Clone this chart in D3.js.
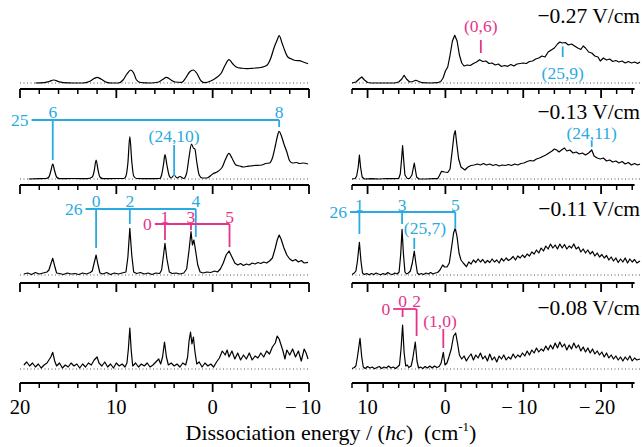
<!DOCTYPE html>
<html><head><meta charset="utf-8">
<script src="https://cdn.jsdelivr.net/npm/d3@7"></script>
<style>body{margin:0;background:#fff}svg{display:block}</style>
</head><body><svg id="c" width="642" height="447" font-family="'Liberation Serif','Times New Roman',Times,serif"></svg>
<script>
// ---------------- DATA ----------------
const fieldLabels = ["\u22120.27 V/cm", "\u22120.13 V/cm", "\u22120.11 V/cm", "\u22120.08 V/cm"];
const leftMajor = [20, 10, 0, -10];
const leftMajorLabels = ["20", "10", "0", "\u2212\u200910"];
const leftMinor = [18, 16, 14, 12, 8, 6, 4, 2, -2, -4, -6, -8];
const rightMajor = [10, 0, -10, -20];
const rightMajorLabels = ["10", "0", "\u2212\u200910", "\u2212\u200920"];
const rightMinor = [12, 8, 6, 4, 2, -2, -4, -6, -8, -12, -14, -16, -18, -22, -24];

// spectra: [energy (cm-1), signal]
const specL027 = [[18.4,0],[17.5,0.3],[17.0,1.5],[16.5,3],[16.0,1.5],[15.5,0.3],[14.5,0],[13.5,0],[12.8,1.5],[12.3,4.5],[12.0,5.7],[11.6,4],[11.0,0.7],[10.5,0],[9.8,0],[9.3,3],[8.9,9],[8.5,13],[8.2,10],[7.9,3],[7.5,0.5],[6.5,0],[5.6,1],[5.2,3.5],[4.8,5.7],[4.4,3.5],[3.9,1],[3.2,0.7],[2.8,5],[2.4,11],[2.0,13],[1.6,9],[1.2,2],[0.8,0.3],[0.2,2],[-0.4,5.5],[-0.9,10],[-1.3,18],[-1.7,23.3],[-2.1,19],[-2.5,15.7],[-3.0,14.8],[-3.5,14.3],[-4.0,14.6],[-4.5,15],[-5.0,15.5],[-5.6,17.5],[-6.0,24],[-6.4,36],[-6.7,43],[-6.9,47.3],[-7.2,40],[-7.5,32],[-7.8,26],[-8.2,24],[-8.6,22.5],[-9.0,22.3],[-9.4,21],[-9.9,19.3]];
const specR027 = [[12.0,0],[11.5,1],[11.0,4.5],[10.75,6],[10.4,3],[10.0,0.5],[9.5,0],[8,0],[6.5,0],[6.0,1],[5.6,4],[5.3,7.7],[5.0,4],[4.6,1],[4.2,1.5],[3.8,2.7],[3.4,1.5],[3.0,0.3],[2.0,0],[1.0,0.3],[0.6,1.5],[0.3,5],[0.0,12],[-0.3,16],[-0.6,28],[-0.9,42],[-1.2,47.7],[-1.5,42],[-1.8,28],[-2.1,20],[-2.4,17],[-2.8,18],[-3.2,17.5],[-3.6,19.5],[-4.0,21],[-4.4,23.3],[-4.8,21.5],[-5.2,22],[-5.6,19.5],[-6.0,20],[-6.4,18],[-6.8,19],[-7.2,16.5],[-7.6,17.5],[-8.0,16.7],[-8.4,18.5],[-8.8,17],[-9.2,19],[-9.6,19.5],[-10.0,20],[-10.4,19.5],[-10.8,21.5],[-11.2,22],[-11.6,24],[-12.0,25],[-12.4,27],[-12.8,26],[-13.2,31],[-13.6,33],[-14.0,35],[-14.4,39],[-14.7,41],[-15.0,40],[-15.4,40.5],[-15.8,38],[-16.2,39],[-16.6,37],[-17.0,35],[-17.4,33.5],[-17.7,37],[-18.0,35],[-18.4,31],[-18.8,30],[-19.2,27],[-19.6,26],[-19.9,22],[-20.3,25],[-20.7,23],[-21.1,24],[-21.5,21.5],[-21.9,22.5],[-22.3,21],[-22.7,22],[-23.1,20],[-23.5,21.5],[-23.9,20],[-24.3,21],[-24.7,19.5],[-25.0,21]];
const specL013 = [[19.1,0],[18.0,0.3],[17.3,0.5],[17.0,2],[16.8,8],[16.6,15],[16.4,8],[16.2,2],[15.9,0.3],[14.5,0.5],[13.0,0.3],[12.5,2],[12.3,8],[12.1,19],[11.9,9],[11.7,2],[11.4,0.3],[10.0,0.5],[9.2,0.5],[9.0,3],[8.8,16],[8.6,42.3],[8.4,18],[8.2,3],[7.9,0.5],[6.5,0.3],[5.5,0.5],[5.3,4],[5.1,15],[4.95,24.3],[4.75,14],[4.5,3],[4.3,1],[4.0,4],[3.7,1],[3.4,2.5],[3.0,0.5],[2.7,6],[2.45,22],[2.2,35],[2.0,31],[1.85,30],[1.65,17],[1.4,4],[1.1,1],[0.6,1],[0.0,5],[-0.6,8],[-1.0,12],[-1.3,19],[-1.7,25.7],[-2.0,21],[-2.4,14],[-2.8,13],[-3.2,12],[-3.5,12.5],[-3.9,13],[-4.3,13.5],[-4.7,13.7],[-5.1,14],[-5.5,15.5],[-5.9,16],[-6.2,21],[-6.5,33],[-6.7,42],[-6.9,47.7],[-7.1,44],[-7.4,35],[-7.7,27],[-8.0,18],[-8.3,16],[-8.7,16.5],[-9.0,15.5],[-9.4,16],[-9.9,15]];
const specR013 = [[12.0,0],[11.6,0.5],[11.4,3],[11.2,12],[11.05,24],[10.9,12],[10.7,2],[10.4,0],[9.5,0.3],[8.5,0],[7.5,0.5],[6.5,0.3],[6.0,0.5],[5.8,5],[5.65,18],[5.5,33.3],[5.35,18],[5.2,4],[4.9,0.5],[4.6,0.5],[4.3,4],[4.15,10],[4.0,16],[3.85,9],[3.7,2],[3.4,0],[2.5,0],[1.5,0.3],[1.0,0.3],[0.8,3],[0.5,7.7],[0.1,7],[-0.3,6.5],[-0.6,10],[-0.9,30],[-1.1,44],[-1.27,48.3],[-1.45,36],[-1.7,20],[-2.0,12],[-2.5,9],[-2.9,12],[-3.3,13.5],[-3.7,14],[-4.1,15],[-4.5,14],[-4.9,15.5],[-5.3,14],[-5.7,15],[-6.1,13.5],[-6.5,14.5],[-6.9,13],[-7.3,14],[-7.7,13.5],[-8.1,14.5],[-8.5,13.5],[-8.9,15],[-9.3,14],[-9.7,15.5],[-10.1,16],[-10.5,17.5],[-10.9,18.5],[-11.3,18],[-11.7,20],[-12.1,21],[-12.5,22.5],[-12.9,24],[-13.3,26],[-13.7,28],[-14.0,30],[-14.3,29],[-14.6,27],[-15.0,29.5],[-15.3,31],[-15.6,28],[-16.0,29],[-16.4,26],[-16.8,27],[-17.2,25],[-17.6,26],[-18.0,24],[-18.4,26],[-18.8,29],[-19.1,23],[-19.5,21],[-19.9,20],[-20.3,21],[-20.7,18],[-21.1,19],[-21.5,17],[-21.9,18],[-22.3,16],[-22.7,17.5],[-23.1,15],[-23.5,16.5],[-23.9,14],[-24.3,15.5],[-24.7,14],[-25.0,15]];
const specL011 = [[19.6,1],[19.2,2],[18.8,0.5],[18.4,2.5],[18.0,1],[17.6,2],[17.2,3],[17.0,5],[16.8,11],[16.6,16.7],[16.4,9],[16.2,2],[15.9,1.5],[15.5,0.5],[15.1,2],[14.7,1],[14.3,1.5],[13.9,0.5],[13.5,2],[13.1,1],[12.7,2.5],[12.5,4],[12.3,12],[12.1,20],[11.9,10],[11.7,2],[11.4,1],[11.0,2.5],[10.6,0.5],[10.2,2],[9.8,1],[9.4,2],[9.0,3],[8.8,18],[8.6,46.7],[8.4,20],[8.2,3],[7.9,1.5],[7.5,2.5],[7.1,1],[6.7,2],[6.3,0.5],[5.9,2],[5.5,1.5],[5.3,5],[5.1,20],[4.95,31.7],[4.75,16],[4.5,3],[4.2,1.5],[3.8,2],[3.4,1],[3.0,2],[2.7,6],[2.45,25],[2.25,43.3],[2.1,30],[1.95,35],[1.8,26],[1.55,10],[1.3,3],[1.0,2],[0.6,3],[0.2,2.5],[-0.2,4],[-0.5,3],[-0.8,6],[-1.1,12],[-1.4,20],[-1.7,24],[-2.0,18],[-2.3,12],[-2.6,10],[-2.9,11.5],[-3.2,9.5],[-3.5,11],[-3.8,10],[-4.1,12],[-4.4,11],[-4.7,12.5],[-5.0,11.5],[-5.3,13],[-5.6,12],[-5.9,14],[-6.2,17],[-6.5,27],[-6.7,35],[-6.9,40],[-7.1,36],[-7.4,27],[-7.7,20],[-8.0,16],[-8.3,14],[-8.6,15.5],[-8.9,13],[-9.2,14.5],[-9.5,12],[-9.9,12.7]];
const specR011 = [[12.0,0.5],[11.7,2],[11.5,4],[11.3,14],[11.05,32.7],[10.85,14],[10.65,2],[10.4,0.5],[10.1,1.5],[9.8,0.3],[9.5,1.5],[9.2,0.5],[8.9,2],[8.6,1],[8.3,0.3],[8.0,1.5],[7.7,0.5],[7.4,2.5],[7.1,1],[6.8,0.5],[6.5,2],[6.2,1],[5.95,3],[5.75,20],[5.57,45.7],[5.4,22],[5.2,3],[5.0,1],[4.75,2],[4.5,4],[4.25,12],[4.0,24],[3.8,12],[3.6,2],[3.4,0.5],[3.1,1.5],[2.8,0.5],[2.5,2],[2.2,1],[1.9,2.5],[1.6,1],[1.3,2],[1.0,2.5],[0.7,5],[0.35,10],[0.1,8],[-0.2,8],[-0.5,12],[-0.8,28],[-1.05,42],[-1.27,46.7],[-1.5,38],[-1.75,22],[-2.0,15],[-2.3,12],[-2.7,8.3],[-3.0,13],[-3.3,11],[-3.6,15],[-3.9,12.5],[-4.2,16],[-4.5,13],[-4.8,15.5],[-5.1,12],[-5.4,14.5],[-5.7,12.5],[-6.0,16],[-6.3,13],[-6.6,15],[-6.9,12],[-7.2,16.5],[-7.5,14],[-7.8,17],[-8.1,14.5],[-8.4,16],[-8.7,18.5],[-9.0,15],[-9.3,19],[-9.6,17],[-9.9,20],[-10.2,17.5],[-10.5,21],[-10.8,19],[-11.1,23],[-11.4,21],[-11.7,25],[-12.0,22],[-12.3,27],[-12.6,24],[-12.9,29],[-13.2,26],[-13.5,31],[-13.8,27],[-14.1,30],[-14.4,26],[-14.7,31],[-15.0,27],[-15.3,30.5],[-15.6,26],[-15.9,29],[-16.2,27],[-16.5,31],[-16.8,26],[-17.1,28],[-17.4,23],[-17.7,26],[-18.0,22],[-18.3,25],[-18.6,21],[-18.9,23.5],[-19.2,19],[-19.5,22],[-19.8,18],[-20.1,20.5],[-20.4,17],[-20.7,19.5],[-21.0,15],[-21.3,18],[-21.6,14],[-21.9,17],[-22.2,12.5],[-22.5,16],[-22.8,13],[-23.1,17],[-23.4,12],[-23.7,16],[-24.0,13],[-24.3,15.5],[-24.6,12],[-25.0,14]];
const specL008 = [[19.6,4],[19.3,7],[19.0,3],[18.7,6],[18.4,2],[18.1,5],[17.8,1],[17.5,4],[17.2,6],[17.0,9],[16.8,12],[16.6,16.7],[16.4,8],[16.2,3],[15.9,6],[15.6,1],[15.3,4],[15.0,2],[14.7,6],[14.4,3],[14.1,5],[13.8,1],[13.5,5],[13.2,2],[12.9,6],[12.6,4],[12.3,9],[12.0,12],[11.8,6],[11.5,3],[11.2,7],[10.9,2],[10.6,5],[10.3,1],[10.0,6],[9.7,3],[9.4,5],[9.1,2],[8.9,6],[8.75,20],[8.6,41],[8.45,18],[8.3,3],[8.0,6],[7.7,2],[7.4,5],[7.1,3],[6.8,6],[6.5,2],[6.2,4],[5.9,7],[5.6,10],[5.4,5],[5.2,12],[5.0,27],[4.8,12],[4.6,4],[4.3,6],[4.0,3],[3.7,5],[3.4,2],[3.1,6],[2.8,4],[2.6,12],[2.45,28],[2.3,37],[2.15,25],[2.0,32],[1.85,18],[1.65,5],[1.4,7],[1.1,2],[0.8,6],[0.5,3],[0.2,5],[-0.1,2],[-0.4,7],[-0.7,11],[-1.0,18],[-1.3,14],[-1.5,19],[-1.7,12],[-2.0,18],[-2.3,10],[-2.6,16],[-2.9,9],[-3.2,14],[-3.5,10],[-3.8,16],[-4.1,9],[-4.4,13],[-4.7,11],[-5.0,16],[-5.3,12],[-5.6,18],[-5.9,15],[-6.2,22],[-6.5,26],[-6.7,33],[-6.9,30],[-7.1,24],[-7.3,18],[-7.5,10],[-7.7,19],[-8.0,14],[-8.3,20],[-8.6,12],[-8.9,18],[-9.2,8],[-9.5,20],[-9.7,16],[-9.9,10]];
const specR008 = [[12.0,0.5],[11.7,1.5],[11.5,3],[11.3,12],[10.97,30.7],[10.75,12],[10.55,2],[10.3,0.5],[10.0,2.5],[9.7,1],[9.4,2],[9.1,0.3],[8.8,1.5],[8.5,2.5],[8.2,0.5],[7.9,2],[7.6,1],[7.3,3],[7.0,1],[6.7,2],[6.4,0.5],[6.1,2.5],[5.9,4],[5.7,20],[5.5,44],[5.3,16],[5.1,3],[4.9,4],[4.7,1.5],[4.4,3],[4.2,10],[3.87,27],[3.65,8],[3.45,1],[3.2,2],[2.9,0.5],[2.6,2.5],[2.3,1],[2.0,3],[1.7,1],[1.4,3],[1.1,1.5],[0.8,2.5],[0.55,6],[0.27,16.7],[0.05,4],[-0.2,6],[-0.45,12],[-0.75,20],[-1.05,33],[-1.32,36],[-1.55,26],[-1.8,14],[-2.1,10],[-2.4,13],[-2.7,8],[-3.0,12],[-3.3,15],[-3.6,9],[-3.9,14],[-4.2,11],[-4.5,16],[-4.8,10],[-5.1,13],[-5.4,8],[-5.7,15],[-6.0,9],[-6.3,12],[-6.6,7],[-6.9,13],[-7.2,10],[-7.5,14],[-7.8,9],[-8.1,12],[-8.4,10],[-8.7,15],[-9.0,11],[-9.3,14],[-9.6,12],[-9.9,16],[-10.2,13],[-10.5,18],[-10.8,14],[-11.1,19],[-11.4,16],[-11.7,21],[-12.0,17],[-12.3,20],[-12.6,18],[-12.9,23],[-13.2,19],[-13.5,24],[-13.8,20],[-14.1,26],[-14.4,21],[-14.7,27],[-15.0,22],[-15.3,25],[-15.6,19],[-15.9,24],[-16.2,20],[-16.5,26],[-16.8,21],[-17.1,24],[-17.4,18],[-17.7,22],[-18.0,17],[-18.3,21],[-18.6,16],[-18.9,20],[-19.2,15],[-19.5,18],[-19.8,14],[-20.1,17],[-20.4,12],[-20.7,16],[-21.0,11],[-21.3,14],[-21.6,10],[-21.9,13],[-22.2,9],[-22.5,12],[-22.8,8],[-23.1,12],[-23.4,9],[-23.7,13],[-24.0,8],[-24.3,11],[-24.6,9],[-25.0,10]];

// progression assignments: prefix, level labels, energies of the lines
const progL013Labels = ["6", "8"];       const progL013E = [16.6, -6.9];
const progL011BLabels = ["0", "2", "4"];  const progL011BE = [12.1, 8.6, 1.75];
const progL011MLabels = ["1", "3", "5"];  const progL011ME = [4.95, 2.25, -1.75];
const progR011Labels = ["1", "3", "5"];   const progR011E = [11.05, 5.57, -1.27];
const progR008Labels = ["0", "2"];        const progR008E = [5.5, 3.7];

// ---------------- LAYOUT ----------------
const BLUE = "#29aae1", MAG = "#e5338a";
const svg = d3.select("#c");
const xL = d3.scaleLinear().domain([20, -10]).range([20, 309]);
const xR = d3.scaleLinear().domain([12, -25]).range([352, 640]);
const baseY = [83, 179, 275, 369];
const axisY = [89, 185, 283, 383];
const fieldY = [23, 119, 216, 315];
const yS = baseY.map(b => d3.scaleLinear().domain([0, 100]).range([b, b - 100]));

const panels = [
  [specL027, specR027], [specL013, specR013], [specL011, specR011], [specL008, specR008]
];
const smooth = [[true, false], [true, false], [false, false], [false, false]];

function drawAxis(r, x, major, minor, endE) {
  const g = svg.append("g").attr("transform", `translate(0,${axisY[r]})`);
  g.append("line").attr("x1", x.range()[0]).attr("x2", x(endE)).attr("stroke", "#000").attr("stroke-width", 2);
  g.selectAll(".mj").data(major).join("line").attr("x1", d => x(d)).attr("x2", d => x(d))
    .attr("y1", 0).attr("y2", 9).attr("stroke", "#000").attr("stroke-width", 1.8);
  g.selectAll(".mn").data(minor).join("line").attr("x1", d => x(d)).attr("x2", d => x(d))
    .attr("y1", 0).attr("y2", 5).attr("stroke", "#000").attr("stroke-width", 1.5);
}

panels.forEach((pair, r) => {
  const y = yS[r];
  [[xL, pair[0], smooth[r][0]], [xR, pair[1], smooth[r][1]]].forEach(([x, data, sm]) => {
    svg.append("line").attr("x1", x.range()[0]).attr("x2", x.range()[1])
      .attr("y1", y(0)).attr("y2", y(0)).attr("stroke", "#555").attr("stroke-width", 1)
      .attr("stroke-dasharray", "1,2.5");
    const line = d3.line().x(d => x(d[0])).y(d => y(d[1]))
      .curve(sm ? d3.curveMonotoneX : d3.curveLinear);
    svg.append("path").datum(data).attr("d", line).attr("fill", "none")
      .attr("stroke", "#000").attr("stroke-width", 1.2).attr("stroke-linejoin", "round");
  });
  drawAxis(r, xL, leftMajor, leftMinor, -10);
  drawAxis(r, xR, rightMajor, rightMinor, -24.3);
  svg.append("text").attr("x", 640).attr("y", fieldY[r])
    .attr("text-anchor", "end").attr("font-size", 21.5).text(fieldLabels[r]);
});

// bottom tick labels
const bl = svg.append("g").attr("font-size", 20.5).attr("text-anchor", "middle");
bl.selectAll(".tl").data(leftMajor).join("text").attr("x", d => xL(d) - (d < 0 ? 6 : 0)).attr("y", 414).text((d, i) => leftMajorLabels[i]);
bl.selectAll(".tr").data(rightMajor).join("text").attr("x", d => xR(d) - (d < 0 ? 4 : 0)).attr("y", 414).text((d, i) => rightMajorLabels[i]);

const title = svg.append("text").attr("x", 331).attr("y", 440).attr("text-anchor", "middle").attr("font-size", 22);
title.append("tspan").text("Dissociation energy / (");
title.append("tspan").attr("font-style", "italic").text("hc");
title.append("tspan").text(")\u00a0\u00a0(cm");
title.append("tspan").attr("font-size", 13).attr("dy", -9).text("-1");
title.append("tspan").attr("dy", 9).text(")");

// ---------------- ANNOTATIONS ----------------
const ann = svg.append("g").attr("font-size", 17.5).attr("text-anchor", "middle");
function vline(x, y, E, h0, h1, c) {
  ann.append("line").attr("x1", x(E)).attr("x2", x(E)).attr("y1", y(h0)).attr("y2", y(h1))
    .attr("stroke", c).attr("stroke-width", 1.8);
}
function label(x, y, E, h, t, c, anchor) {
  ann.append("text").attr("x", typeof E === "number" ? x(E) : E.px).attr("y", y(h) + 6)
    .attr("fill", c).attr("text-anchor", anchor || "middle").text(t);
}
function progression(x, y, prefix, labels, Es, startE, hLine, hLab, hEnds, c) {
  ann.append("line").attr("x1", x(startE)).attr("x2", x(Es[Es.length - 1]))
    .attr("y1", y(hLine)).attr("y2", y(hLine)).attr("stroke", c).attr("stroke-width", 1.8);
  Es.forEach((E, i) => {
    vline(x, y, E, hLine, hEnds[i], c);
    label(x, y, E, hLab, labels[i], c);
  });
  label(x, y, {px: x(startE) - 3}, hLine, prefix, c, "end");
}

// row 0 right
vline(xR, yS[0], -4.55, 30, 43, MAG); label(xR, yS[0], -4.55, 57, "(0,6)", MAG);
vline(xR, yS[0], -15.07, 26, 36.5, BLUE); label(xR, yS[0], -15.07, 10, "(25,9)", BLUE);
// row 1 left
progression(xL, yS[1], "25", progL013Labels, progL013E, 18.8, 59, 67, [19, 52], BLUE);
vline(xL, yS[1], 4.0, 3, 34, BLUE); label(xL, yS[1], 4.0, 43, "(24,10)", BLUE);
// row 1 right
vline(xR, yS[1], -18.8, 32, 38, BLUE); label(xR, yS[1], -18.8, 46.5, "(24,11)", BLUE);
// row 2 left
progression(xL, yS[2], "26", progL011BLabels, progL011BE, 13.2, 66, 74, [27, 51, 38], BLUE);
progression(xL, yS[2], "0", progL011MLabels, progL011ME, 6.0, 51, 58, [35, 45, 28], MAG);
// row 2 right
progression(xR, yS[2], "26", progR011Labels, progR011E, 12.25, 63, 70, [41, 51, 46], BLUE);
vline(xR, yS[2], 4.0, 26, 37, BLUE); label(xR, yS[2], 2.62, 47, "(25,7)", BLUE);
// row 3 right
progression(xR, yS[3], "0", progR008Labels, progR008E, 6.7, 60, 68, [52, 33], MAG);
vline(xR, yS[3], 0.27, 21, 40, MAG); label(xR, yS[3], 0.7, 48, "(1,0)", MAG);
</script></body></html>
